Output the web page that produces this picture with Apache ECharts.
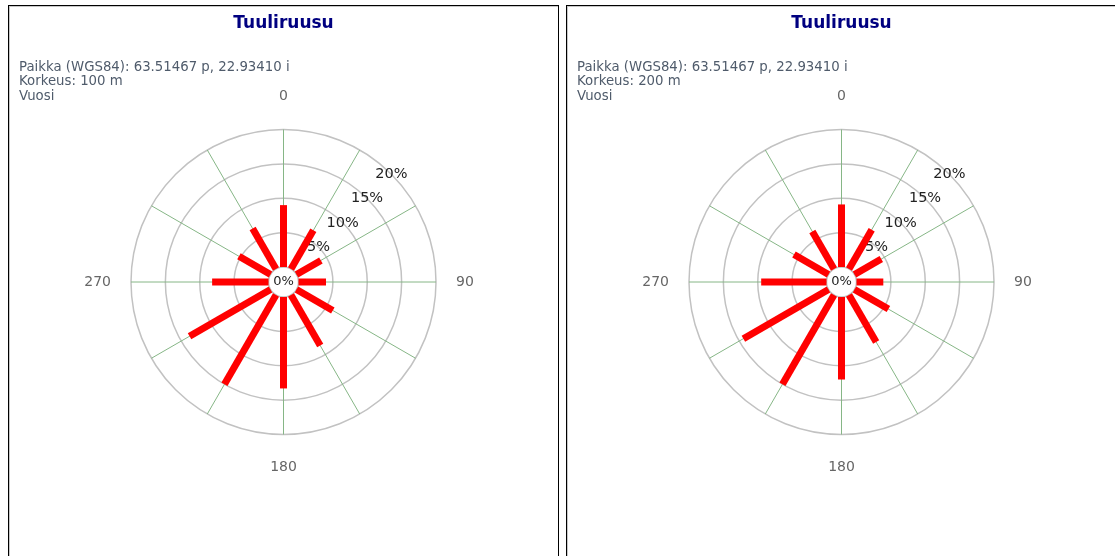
<!DOCTYPE html>
<html>
<head>
<meta charset="utf-8">
<script src="https://cdn.jsdelivr.net/npm/echarts@6/dist/echarts.min.js"></script>
<style>
html,body{margin:0;padding:0;background:#fff;overflow:hidden;width:1115px;height:556px;}
.panel{position:absolute;top:5px;width:549px;height:560px;border:1px solid #000;box-shadow:inset 1px 1px 0 #c8c8c8;background:#fff;}
#p1{left:8px;}
#p2{left:566px;}
.chart{width:549px;height:560px;}
</style>
</head>
<body>
<div class="panel" id="p1"><div class="chart" id="c1"></div></div>
<div class="panel" id="p2"><div class="chart" id="c2"></div></div>
<script>
// Wind directions (degrees) and frequency (%) per direction
const directions = [0, 30, 60, 90, 120, 150, 180, 210, 240, 270, 300, 330];
const freq100m = [9.0, 6.5, 4.1, 4.0, 6.1, 8.5, 13.3, 15.0, 13.6, 8.2, 5.3, 6.8];
const freq200m = [9.1, 6.6, 4.5, 3.9, 5.7, 7.9, 12.0, 15.0, 14.3, 9.5, 5.8, 6.3];
const angleTickLabels = ['0', '90', '180', '270'];
const radiusTickValues = [0, 5, 10, 15, 20];
const chartTitle = 'Tuuliruusu';
const locationText = 'Paikka (WGS84): 63.51467 p, 22.93410 i';
const heights = ['100 m', '200 m'];
const periodText = 'Vuosi';

const FONT = 'DejaVu Sans, Verdana, sans-serif';
const CENTER = ['50%', 276];
const RADIUS = [15, 152.5];

function makeOption(values, heightLabel) {
  const data = directions.map((d, i) => [values[i], d]);
  return {
    animation: false,
    title: [
      {
        text: chartTitle,
        left: 'center',
        top: 4,
        textStyle: { fontFamily: FONT, fontSize: 17, fontWeight: 'bold', color: '#000080' }
      },
      {
        text: locationText + '\nKorkeus: ' + heightLabel + '\n' + periodText,
        left: 5,
        top: 49,
        textStyle: { fontFamily: FONT, fontSize: 13.3, fontWeight: 'normal', color: '#4f5b6b', lineHeight: 14.5 }
      }
    ],
    polar: [
      { center: CENTER, radius: RADIUS },
      { center: CENTER, radius: RADIUS }
    ],
    angleAxis: [
      {
        polarIndex: 0,
        type: 'value',
        min: 0,
        max: 360,
        interval: 30,
        startAngle: 90,
        clockwise: true,
        axisLine: { show: false },
        axisTick: { show: false },
        splitLine: { show: true, lineStyle: { color: '#86b686', width: 1 } },
        axisLabel: {
          show: true,
          margin: 20,
          lineHeight: 26,
          fontFamily: FONT,
          fontSize: 14,
          color: '#666',
          formatter: function (v) {
            const s = String(v);
            return (v < 360 && angleTickLabels.indexOf(s) >= 0) ? s : '';
          }
        }
      },
      {
        polarIndex: 1,
        type: 'value',
        min: 0,
        max: 360,
        startAngle: 45,
        show: false
      }
    ],
    radiusAxis: [
      {
        polarIndex: 0,
        type: 'value',
        min: radiusTickValues[0],
        max: radiusTickValues[radiusTickValues.length - 1],
        interval: 5,
        axisLine: { show: false },
        axisTick: { show: false },
        axisLabel: { show: false },
        splitLine: { show: true, lineStyle: { color: '#c2c2c2', width: 1.5 } }
      },
      {
        polarIndex: 1,
        type: 'value',
        min: radiusTickValues[0],
        max: radiusTickValues[radiusTickValues.length - 1],
        interval: 5,
        axisLine: { show: false },
        axisTick: { show: false },
        splitLine: { show: false },
        axisLabel: {
          show: true,
          margin: 0,
          rotate: 0,
          align: 'center',
          verticalAlign: 'middle',
          fontFamily: FONT,
          fontSize: 14.5,
          color: '#222',
          formatter: function (v) { return v === 0 ? '' : v + '%'; }
        }
      }
    ],
    graphic: [
      {
        type: 'text',
        left: 'center',
        top: 269,
        style: { text: '0%', fontFamily: FONT, fontSize: 13, fill: '#222' },
        z: 100
      }
    ],
    series: [
      {
        type: 'custom',
        coordinateSystem: 'polar',
        polarIndex: 0,
        data: data,
        encode: { radius: 0, angle: 1 },
        renderItem: function (params, api) {
          const v = api.value(0);
          const a = api.value(1);
          const p0 = api.coord([0, a]);
          const p1 = api.coord([v, a]);
          return {
            type: 'line',
            shape: { x1: p0[0], y1: p0[1], x2: p1[0], y2: p1[1] },
            style: { stroke: '#ff0000', lineWidth: 7, lineCap: 'butt' }
          };
        }
      }
    ]
  };
}

const c1 = echarts.init(document.getElementById('c1'), null, { renderer: 'canvas' });
c1.setOption(makeOption(freq100m, heights[0]));
const c2 = echarts.init(document.getElementById('c2'), null, { renderer: 'canvas' });
c2.setOption(makeOption(freq200m, heights[1]));
</script>
</body>
</html>
